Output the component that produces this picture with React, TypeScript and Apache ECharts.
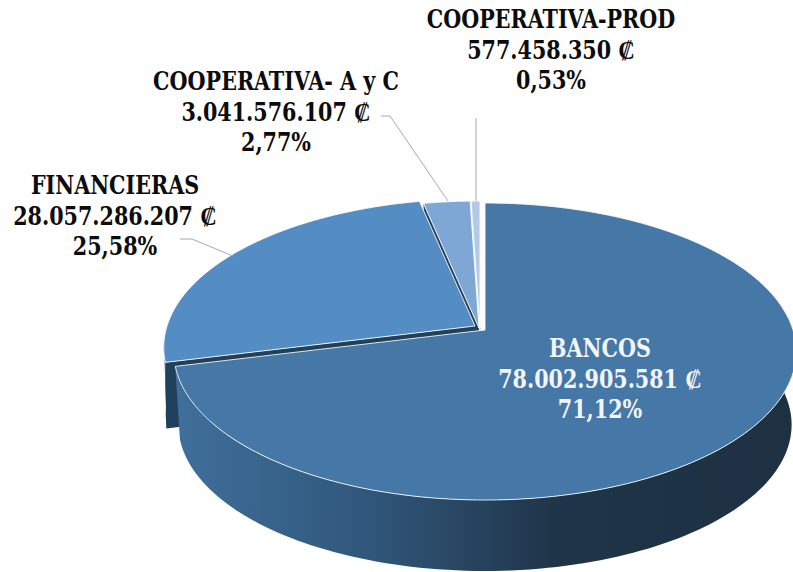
import React, { useEffect, useRef } from "react";
import * as echarts from "echarts";

const categories = ["BANCOS", "FINANCIERAS", "COOPERATIVA- A y C", "COOPERATIVA-PROD"];
const amounts = [78002905581, 28057286207, 3041576107, 577458350];
const percentLabels = ["71,12%", "25,58%", "2,77%", "0,53%"];

const topColors = ["#4577a7", "#538dc4", "#7fa7d6", "#b3cae6"];
const wallColors = ["#1f3a52", "#21405b", "#26435f", "#5b7da3"];
const labelCenters: number[][] = [[600, 379], [115, 216], [276, 112], [551, 50]];
const labelColors = ["#f2f5f9", "#0c0c0c", "#0c0c0c", "#0c0c0c"];
const explode: number[][] = [[0, 0], [-10, -4], [-6, -2], [-5, -2]];
const depths = [0, 66, 30, 10];
const leaders: (number[][] | null)[] = [
  null,
  [[180, 239], [192, 239], [233, 256]],
  [[381, 116], [390, 116], [448, 201]],
  [[476, 118], [476, 201]],
];

// Perspective projection of the unit disc onto the pie's top face
const APEX_X = 485;
const APEX_Y = 330;
const C = 308;
const A = 145.4;
const K = -0.1448;
const DEPTH = 73.5;
const BOTTOM_SCALE = 0.985;
const TEXT_STRETCH = 1.1;

const project = (deg: number, ox = 0, oy = 0, s = 1, dy = 0): number[] => {
  const t = (deg * Math.PI) / 180;
  const ux = Math.sin(t);
  const uy = -Math.cos(t);
  const d = 1 + K * uy;
  return [APEX_X + ox + (s * C * ux) / d, APEX_Y + oy + dy + (s * A * uy) / d];
};

const arc = (from: number, to: number, ox = 0, oy = 0, s = 1, dy = 0): number[][] => {
  const n = Math.max(2, Math.ceil(Math.abs(to - from) / 1.5));
  const out: number[][] = [];
  for (let i = 0; i <= n; i++) out.push(project(from + ((to - from) * i) / n, ox, oy, s, dy));
  return out;
};

const total = amounts.reduce((a, b) => a + b, 0);
const startShares = amounts.map((_, i) => amounts.slice(0, i).reduce((a, b) => a + b, 0) / total);
const formatAmount = (v: number) => String(v).replace(/\B(?=(\d{3})+$)/g, ".") + " \u20a1";
const FONT = 'bold 23px "DejaVu Serif Condensed", "DejaVu Serif", serif';

const drawOrder = [3, 2, 1, 0];

const renderItem = (_params: any, api: any) => {
  const i = api.value(0);
  const from = api.value(1) * 360;
  const to = from + (api.value(2) / total) * 360;
  const [ox, oy] = explode[i];
  const children: any[] = [];

  if (i === 0) {
    // Outer wall of the large slice
    const rim = arc(85, to);
    const low = arc(to, 85, 0, 0, BOTTOM_SCALE, DEPTH);
    children.push({
      type: "polygon",
      shape: { points: rim.concat(low) },
      style: {
        fill: new echarts.graphic.LinearGradient(0, 0, 1, 0, [
          { offset: 0, color: "#3f6f9b" },
          { offset: 0.3, color: "#31587c" },
          { offset: 0.62, color: "#1f3448" },
          { offset: 1, color: "#1e3143" },
        ]),
      },
    });
  } else {
    // Cut walls revealed in the gaps between exploded slices
    const d = depths[i];
    const apex = [APEX_X + ox, APEX_Y + oy];
    const rim = project(from, ox, oy);
    children.push({
      type: "polygon",
      shape: {
        points: [apex, rim, [rim[0] + 1, rim[1] + d], [apex[0] + 1, apex[1] + d]],
      },
      style: { fill: wallColors[i] },
    });
    if (i === 1) {
      const outer = arc(from, from + 8, ox, oy);
      const lower = outer.slice().reverse().map((p) => [p[0] + 2, p[1] + d]);
      children.push({
        type: "polygon",
        shape: { points: outer.concat(lower) },
        style: { fill: wallColors[i] },
      });
    }
  }

  children.push({
    type: "polygon",
    shape: { points: [[APEX_X + ox, APEX_Y + oy], ...arc(from, to, ox, oy)] },
    style: { fill: topColors[i], stroke: "rgba(255,255,255,0.85)", lineWidth: 1, lineJoin: "round" },
  });

  const leader = leaders[i];
  if (leader) {
    children.push({
      type: "polyline",
      shape: { points: leader },
      style: { fill: "none", stroke: "#a9a9a9", lineWidth: 1 },
    });
  }

  children.push({
    type: "text",
    x: labelCenters[i][0],
    y: labelCenters[i][1],
    scaleY: TEXT_STRETCH,
    style: {
      text: [categories[i], formatAmount(amounts[i]), percentLabels[i]].join("\n"),
      x: 0,
      y: 0,
      align: "center",
      verticalAlign: "middle",
      font: FONT,
      lineHeight: 30.5 / TEXT_STRETCH,
      fill: labelColors[i],
    },
  });

  return { type: "group", children };
};

export default function App() {
  const ref = useRef<HTMLDivElement>(null);
  useEffect(() => {
    document.body.style.margin = "0";
    const chart = echarts.init(ref.current as HTMLDivElement, undefined, { renderer: "svg" });
    chart.setOption({
      animation: false,
      backgroundColor: "#ffffff",
      series: [
        {
          type: "custom",
          coordinateSystem: "none",
          silent: true,
          renderItem,
          encode: { tooltip: [2] },
          data: drawOrder.map((i) => ({
            name: categories[i],
            value: [i, startShares[i], amounts[i]],
          })),
        },
      ],
    });
    return () => chart.dispose();
  }, []);
  return <div ref={ref} style={{ width: 793, height: 572 }} />;
}
